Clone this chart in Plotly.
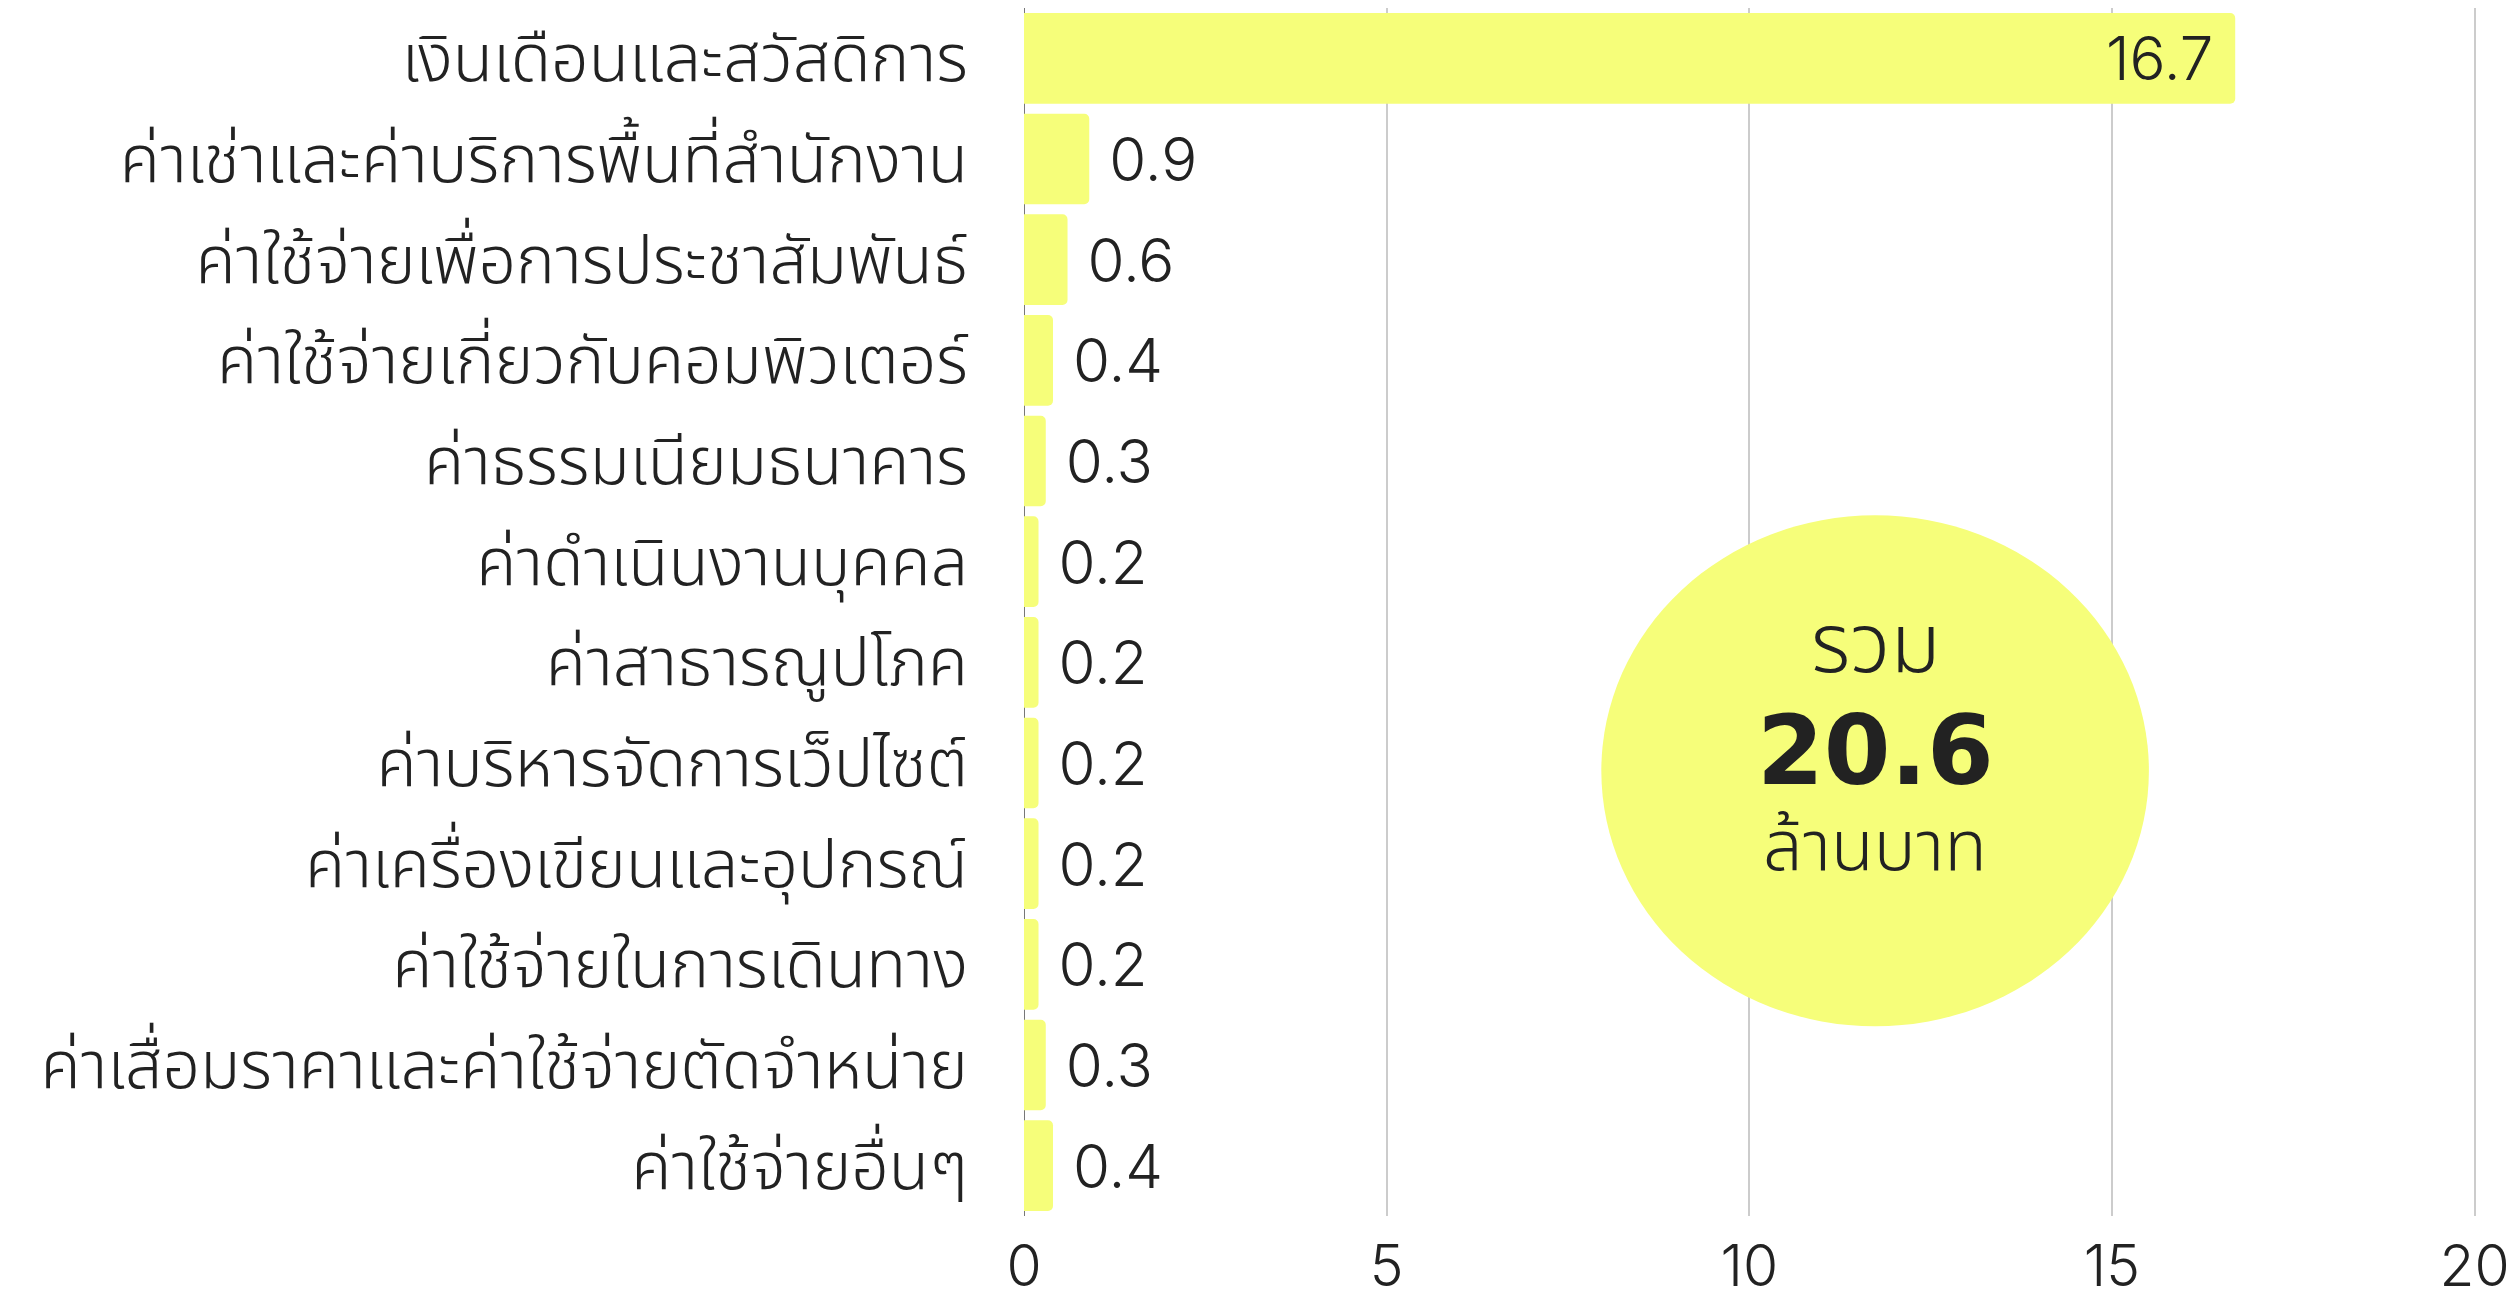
import plotly.graph_objects as go

categories = [
    "เงินเดือนและสวัสดิการ",
    "ค่าเช่าและค่าบริการพื้นที่สำนักงาน",
    "ค่าใช้จ่ายเพื่อการประชาสัมพันธ์",
    "ค่าใช้จ่ายเกี่ยวกับคอมพิวเตอร์",
    "ค่าธรรมเนียมธนาคาร",
    "ค่าดำเนินงานบุคคล",
    "ค่าสาธารณูปโภค",
    "ค่าบริหารจัดการเว็ปไซต์",
    "ค่าเครื่องเขียนและอุปกรณ์",
    "ค่าใช้จ่ายในการเดินทาง",
    "ค่าเสื่อมราคาและค่าใช้จ่ายตัดจำหน่าย",
    "ค่าใช้จ่ายอื่นๆ",
]
values = [16.7, 0.9, 0.6, 0.4, 0.3, 0.2, 0.2, 0.2, 0.2, 0.2, 0.3, 0.4]
x_ticks = [0, 5, 10, 15, 20]
total_label = "รวม"
total_value = "20.6"
total_unit = "ล้านบาท"

THAI = "Noto Sans Thai, Noto Sans, sans-serif"
NUM = "Inter, Noto Sans Thai, sans-serif"
BOLDNUM = "DejaVu Sans, Noto Sans Thai, sans-serif"
BAR = "#F6FE7A"
INK = "#222222"
NB = "\u00a0"

texts = [f"{NB}{v:.1f}{NB}" for v in values]

num_font = dict(family=NUM, size=60, color=INK, weight=300)

fig = go.Figure(
    go.Bar(
        y=categories,
        x=values,
        orientation="h",
        marker=dict(color=BAR, line=dict(width=0)),
        text=texts,
        textposition="auto",
        insidetextanchor="end",
        constraintext="none",
        textfont=num_font,
        insidetextfont=num_font,
        outsidetextfont=num_font,
        cliponaxis=False,
    )
)

# page has an 8px body margin; keep the figure inside the window
W, H = 2519 - 16, 1297 - 16
ml, mr, mt, mb = 1016, 35, 0, 73

fig.update_layout(
    width=W,
    height=H,
    margin=dict(l=ml, r=mr, t=mt, b=mb, pad=0, autoexpand=False),
    paper_bgcolor="white",
    plot_bgcolor="white",
    bargap=0.1,
    barcornerradius=5,
    showlegend=False,
    font=dict(family=THAI, color=INK),
    xaxis=dict(
        range=[0, 20.02],
        tickvals=x_ticks,
        ticktext=[str(t) for t in x_ticks],
        showgrid=True,
        gridcolor="#cccccc",
        gridwidth=2,
        zeroline=True,
        zerolinecolor="#777777",
        zerolinewidth=1,
        showline=False,
        ticks="",
        ticklabelstandoff=12,
        ticklabeloverflow="allow",
        automargin=False,
        tickfont=dict(family=NUM, size=57, color=INK, weight=300),
        fixedrange=True,
        layer="below traces",
    ),
    yaxis=dict(
        autorange="reversed",
        showgrid=False,
        zeroline=False,
        showline=False,
        ticks="",
        ticklabelstandoff=55,
        automargin=False,
        tickfont=dict(family=THAI, size=66, color=INK, weight=300),
        fixedrange=True,
    ),
    shapes=[
        dict(
            type="circle",
            xref="x",
            yref="paper",
            x0=7.96,
            x1=15.51,
            y0=0.157,
            y1=0.580,
            fillcolor=BAR,
            line=dict(width=0),
            layer="above",
        )
    ],
    annotations=[
        dict(
            x=11.74, xref="x", y=0.471, yref="paper",
            text=total_label, showarrow=False,
            font=dict(family=THAI, size=82, color=INK, weight=300),
            xanchor="center", yanchor="middle",
        ),
        dict(
            x=11.74, xref="x", y=0.385, yref="paper",
            text=f"<b>{total_value}</b>", showarrow=False,
            font=dict(family=BOLDNUM, size=96, color=INK),
            xanchor="center", yanchor="middle",
        ),
        dict(
            x=11.74, xref="x", y=0.304, yref="paper",
            text=total_unit, showarrow=False,
            font=dict(family=THAI, size=70, color=INK, weight=300),
            xanchor="center", yanchor="middle",
        ),
    ],
)

fig.write_html("out.html")
